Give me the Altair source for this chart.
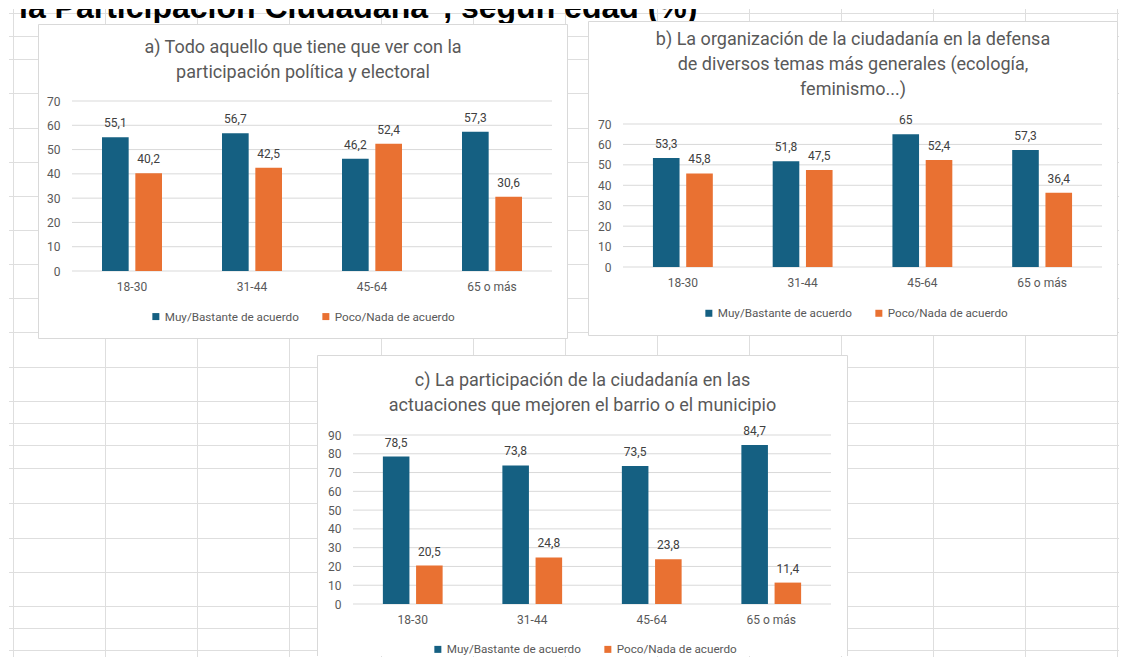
import altair as alt
import pandas as pd

# ---------------- data ----------------
AGES = ["18-30", "31-44", "45-64", "65 o más"]
SERIES = ["Muy/Bastante de acuerdo", "Poco/Nada de acuerdo"]
COLORS = ["#156082", "#E97132"]

PAGE_TITLE = ['la Participación Ciudadana", según edad (%)']

A_TITLE = ["a) Todo aquello que tiene que ver con la",
           "participación política y electoral"]
A_MUY = [55.1, 56.7, 46.2, 57.3]
A_POCO = [40.2, 42.5, 52.4, 30.6]
A_TICKS = [0, 10, 20, 30, 40, 50, 60, 70]

B_TITLE = ["b) La organización de la ciudadanía en la defensa",
           "de diversos temas más generales (ecología,",
           "feminismo...)"]
B_MUY = [53.3, 51.8, 65, 57.3]
B_POCO = [45.8, 47.5, 52.4, 36.4]
B_TICKS = [0, 10, 20, 30, 40, 50, 60, 70]

C_TITLE = ["c) La participación de la ciudadanía en las",
           "actuaciones que mejoren el barrio o el municipio"]
C_MUY = [78.5, 73.8, 73.5, 84.7]
C_POCO = [20.5, 24.8, 23.8, 11.4]
C_TICKS = [0, 10, 20, 30, 40, 50, 60, 70, 80, 90]

# ---------------- styling / layout constants ----------------
FONT = "Roboto"
GRAY = "#595959"
LINE = "#d9d9d9"
SHEET = "#dedede"
SHEET_X = [12, 104, 196, 288, 380, 472, 564, 656, 748, 840, 932, 1024, 1116]
SHEET_Y = [12, 35, 58, 92, 127, 161, 195, 229, 263, 297, 331, 366, 400, 422,
           444, 467, 502, 537, 571, 605, 627, 649]
SVG_W, SVG_H = 1110, 648
ONE = pd.DataFrame({"k": [0]})
NO_VIEW = alt.ViewBackground(stroke="transparent", strokeWidth=0, fill="transparent")


def panel(title, muy, poco, ticks, ymax, W, H, frame, t_off, t_dx, leg_x, leg_y,
          open_bottom=False):
    df = pd.DataFrame({
        "edad": AGES * 2,
        "serie": [SERIES[0]] * len(AGES) + [SERIES[1]] * len(AGES),
        "valor": list(muy) + list(poco),
    })
    df["etiqueta"] = [f"{v:g}".replace(".", ",") for v in df["valor"]]

    yscale = alt.Scale(domain=[0, ymax], nice=False, zero=True)
    yaxis = alt.Axis(title=None, values=ticks, grid=False, ticks=False,
                     domain=False, labelPadding=12, labelFont=FONT,
                     labelFontSize=12, labelColor=GRAY, zindex=1)
    x = alt.X("edad:N", sort=AGES,
              scale=alt.Scale(paddingInner=0.5, paddingOuter=0.25),
              axis=alt.Axis(title=None, labelAngle=0, ticks=False, domain=False,
                            grid=False, labelPadding=10, labelFont=FONT,
                            labelFontSize=12, labelColor=GRAY, zindex=1))
    xo = alt.XOffset("serie:N", sort=SERIES, scale=alt.Scale(paddingInner=0.2))
    y = alt.Y("valor:Q", scale=yscale, axis=yaxis)
    color = alt.Color("serie:N", sort=SERIES,
                      scale=alt.Scale(domain=SERIES, range=COLORS),
                      legend=alt.Legend(orient="none", legendX=leg_x, legendY=leg_y,
                                        direction="horizontal", title=None,
                                        symbolType="square", symbolSize=49,
                                        symbolStrokeWidth=0, labelFont=FONT,
                                        labelFontSize=11.7, labelColor=GRAY,
                                        columnPadding=21, labelOffset=3,
                                        padding=0, zindex=1))

    fx0, fx1, fy0, fy1 = frame
    layers = [alt.Chart(ONE).mark_rect(fill="white", strokeWidth=0).encode(
        x=alt.value(fx0), x2=alt.value(fx1), y=alt.value(fy0), y2=alt.value(fy1))]
    edges = [(fx0, fx0, fy0, fy1), (fx1, fx1, fy0, fy1), (fx0, fx1, fy0, fy0)]
    if not open_bottom:
        edges.append((fx0, fx1, fy1, fy1))
    for ex0, ex1, ey0, ey1 in edges:
        layers.append(alt.Chart(ONE).mark_rule(color=LINE, strokeWidth=1).encode(
            x=alt.value(ex0), x2=alt.value(ex1), y=alt.value(ey0), y2=alt.value(ey1)))

    grid = alt.Chart(pd.DataFrame({"t": ticks})).mark_rule(
        color=LINE, strokeWidth=1).encode(y=alt.Y("t:Q", scale=yscale, axis=yaxis))
    base = alt.Chart(df)
    bars = base.mark_bar().encode(x=x, xOffset=xo, y=y, color=color)
    labels = base.mark_text(dy=-10, baseline="alphabetic", font=FONT, fontSize=12,
                            color="#404040").encode(x=x, xOffset=xo, y=y,
                                                    text="etiqueta:N")
    layers += [grid, bars, labels]
    return alt.layer(*layers).properties(
        width=W, height=H, view=NO_VIEW,
        title=alt.TitleParams(text=title, font=FONT, fontSize=18,
                              fontWeight="normal", color=GRAY, lineHeight=25,
                              anchor="middle", frame="group", dx=t_dx,
                              offset=t_off, zindex=1))


def spacer(w):
    # empty cell that only reserves horizontal room in the layout
    return alt.Chart(ONE).mark_text(text="", opacity=0).encode(
        x=alt.value(0), y=alt.value(0)).properties(width=w, height=1, view=NO_VIEW)


pa = panel(A_TITLE, A_MUY, A_POCO, A_TICKS, 70, 480, 170,
           (-33.5, 495.5, -76.5, 237.5), -58.2, -9, 78, 209.5)
pb = panel(B_TITLE, B_MUY, B_POCO, B_TICKS, 166 * 70 / 143, 479, 166,
           (-34.5, 494.5, -79.5, 234.5), -77.8, -9.5, 80, 206.2)
pc = panel(C_TITLE, C_MUY, C_POCO, C_TICKS, 90, 478, 169,
           (-35.5, 494.5, -79.5, 221), -60.3, -9.5, 79, 208.3, open_bottom=True)

# spreadsheet background with the clipped page heading
vlines = alt.Chart(pd.DataFrame({"px": [v - 8 + 0.5 for v in SHEET_X]})).mark_rule(
    color=SHEET, strokeWidth=1).encode(
    x=alt.X("px:Q", scale=None, axis=None), y=alt.value(0), y2=alt.value(SVG_H))
hlines = alt.Chart(pd.DataFrame({"py": [v - 8 + 0.5 for v in SHEET_Y]})).mark_rule(
    color=SHEET, strokeWidth=1).encode(
    y=alt.Y("py:Q", scale=None, axis=None), x=alt.value(0), x2=alt.value(SVG_W))
heading = alt.Chart(pd.DataFrame({"t": PAGE_TITLE})).mark_text(
    align="left", baseline="alphabetic", font="Liberation Sans", fontSize=32,
    fontWeight="bold", color="black", clip=True).encode(
    x=alt.value(10), y=alt.value(9), text="t:N")
bg = alt.layer(vlines, hlines, heading).properties(width=SVG_W, height=14, view=NO_VIEW)

IND = dict(x="independent", y="independent", color="independent",
           xOffset="independent")
row1 = alt.hconcat(spacer(9), pa, pb, spacing=20).resolve_scale(**IND).resolve_legend(color="independent")
row2 = alt.hconcat(spacer(288), pc, spacing=20).resolve_scale(**IND).resolve_legend(color="independent")
v1 = alt.vconcat(row1, row2, spacing=16).resolve_scale(**IND).resolve_legend(color="independent")
chart = alt.vconcat(bg, v1, spacing=78, bounds="flush", padding=0).resolve_scale(
    **IND).resolve_legend(color="independent").configure_view(
    stroke="transparent", strokeWidth=0, fill="transparent").configure(
    background="white")

chart.save("out.html", embed_options={"renderer": "svg", "actions": False})
